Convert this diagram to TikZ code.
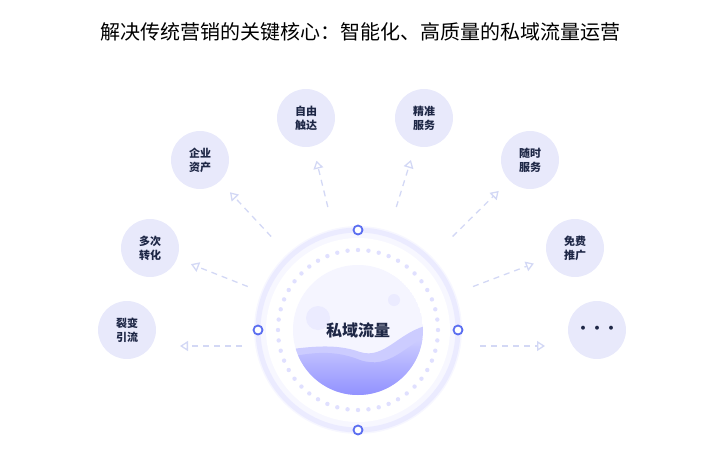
\documentclass[tikz,border=0pt]{standalone}
\usepackage{fontspec}
\setmainfont{Noto Sans CJK SC}
\usetikzlibrary{calc,arrows.meta}
\definecolor{sat}{HTML}{E8E9FB}
\definecolor{txt}{HTML}{1E2746}
\definecolor{blu}{HTML}{5B6EF0}
\definecolor{arr}{HTML}{D3D8F5}
\begin{document}
\begin{tikzpicture}[x=1pt,y=-1pt,
  satn/.style={circle,fill=sat,minimum size=58pt,inner sep=0pt,font=\fontsize{11}{14}\selectfont\bfseries,text=txt,align=center},
  dot/.style={circle,draw=blu,line width=1.8pt,fill=white,minimum size=9pt,inner sep=0pt},
  arw/.style={draw=arr,line width=1.3pt,dash pattern=on 6pt off 5pt,-{Triangle[open,length=8pt,width=10pt,line width=1.3pt]}}]
\useasboundingbox (0,0) rectangle (720,450);
\node[font=\fontsize{20}{24}\selectfont,text=black] (title) at (360,32) {解决传统营销的关键核心：智能化、高质量的私域流量运营};
\coordinate (c) at (358,330);
\coordinate (e1) at (180,346);
\coordinate (e8) at (545,346);
% outer faint ring
\fill[blue!3] (c) circle (104);
\draw[blue!8,line width=5pt] (c) circle (100);
\fill[white] (c) circle (92);
\foreach \a in {0,7.5,...,352.5} \fill[blue!12] ($(c)+(\a:80)$) circle (2.2);
\begin{scope}
\clip (c) circle (65);
\fill[blue!4] (c) circle (65);
\fill[blue!20] (285,350) .. controls (320,345) and (340,345) .. (360,352) .. controls (385,360) and (400,330) .. (430,325) -- (430,400) -- (285,400) -- cycle;
\shade[top color=blue!18,bottom color=blue!45] (285,358) .. controls (320,350) and (340,352) .. (360,360) .. controls (390,370) and (405,345) .. (430,335) -- (430,400) -- (285,400) -- cycle;
\fill[blue!8] (318,318) circle (12);
\fill[blue!8] (394,300) circle (6);
\end{scope}
\node[font=\fontsize{16}{18}\selectfont\bfseries,text=txt] (core) at (c) {私域流量};
\node[dot] (d1) at (358,230) {};
\node[dot] (d2) at (358,430) {};
\node[dot] (d3) at (258,330) {};
\node[dot] (d4) at (458,330) {};
\node[satn] (s1) at (127,330) {裂变\\引流};
\node[satn] (s2) at (150,248) {多次\\转化};
\node[satn] (s3) at (200,160) {企业\\资产};
\node[satn] (s4) at (306,118) {自由\\触达};
\node[satn] (s5) at (424,118) {精准\\服务};
\node[satn] (s6) at (530,160) {随时\\服务};
\node[satn] (s7) at (575,248) {免费\\推广};
\node[satn,font=\fontsize{14}{14}\selectfont\bfseries] (s8) at (597,330) {•••};
\draw[arw] ($(c)+(-116,16)$) -- (e1);
\draw[arw] ($(c)!0.53!(s2)$) -- ($(s2)!44pt!(c)$);
\draw[arw] ($(c)!0.55!(s3)$) -- ($(s3)!44pt!(c)$);
\draw[arw] ($(c)!0.58!(s4)$) -- ($(s4)!44pt!(c)$);
\draw[arw] ($(c)!0.58!(s5)$) -- ($(s5)!44pt!(c)$);
\draw[arw] ($(c)!0.55!(s6)$) -- ($(s6)!44pt!(c)$);
\draw[arw] ($(c)!0.53!(s7)$) -- ($(s7)!44pt!(c)$);
\draw[arw] ($(c)+(122,16)$) -- (e8);
\end{tikzpicture}
\end{document}
